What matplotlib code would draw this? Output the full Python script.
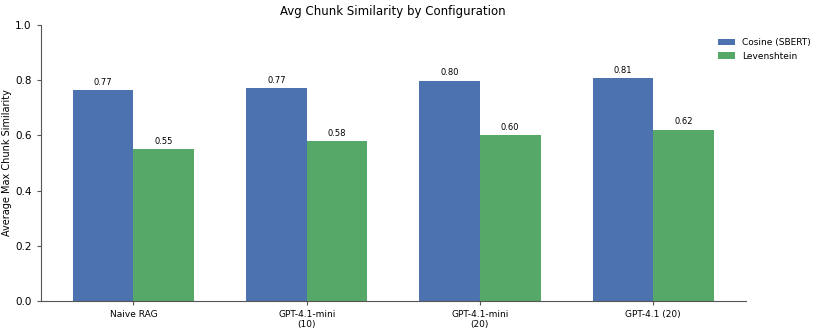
import matplotlib
matplotlib.use("Agg")
import matplotlib.pyplot as plt
import numpy as np

categories = ["Naive RAG", "GPT-4.1-mini\n(10)", "GPT-4.1-mini\n(20)", "GPT-4.1 (20)"]
cosine = [0.765, 0.772, 0.798, 0.807]
levenshtein = [0.551, 0.579, 0.602, 0.621]
series_names = ["Cosine (SBERT)", "Levenshtein"]

fig = plt.figure(figsize=(8.16, 3.32), dpi=100)
ax = fig.add_axes([0.050, 0.0934, 0.864, 0.8313])

x = np.arange(len(categories))
w = 0.35
b1 = ax.bar(x - w/2, cosine, w, color="#4C72B0", label=series_names[0])
b2 = ax.bar(x + w/2, levenshtein, w, color="#55A868", label=series_names[1])

for bars, vals in ((b1, cosine), (b2, levenshtein)):
    for r, v in zip(bars, vals):
        ax.text(r.get_x() + r.get_width()/2, v + 0.012, f"{v:.2f}",
                ha="center", va="bottom", fontsize=6)

ax.set_ylim(0, 1.0)
ax.set_yticks([0, 0.2, 0.4, 0.6, 0.8, 1.0])
ax.set_xticks(x)
ax.set_xticklabels(categories, fontsize=6.5)
ax.tick_params(axis="y", labelsize=7.5)
ax.tick_params(axis="both", length=3, color="#555555")
ax.set_ylabel("Average Max Chunk Similarity", fontsize=7, labelpad=2)
ax.set_title("Avg Chunk Similarity by Configuration", fontsize=8.5, pad=7)
for s in ("top", "right"):
    ax.spines[s].set_visible(False)
for s in ("left", "bottom"):
    ax.spines[s].set_color("#555555")

fig.legend(handles=[b1, b2], labels=series_names, loc="upper right",
           bbox_to_anchor=(1.004, 0.91), frameon=False, fontsize=6.5,
           handlelength=1.9, handleheight=0.7, labelspacing=0.5)

fig.savefig("out.png", dpi=100)
